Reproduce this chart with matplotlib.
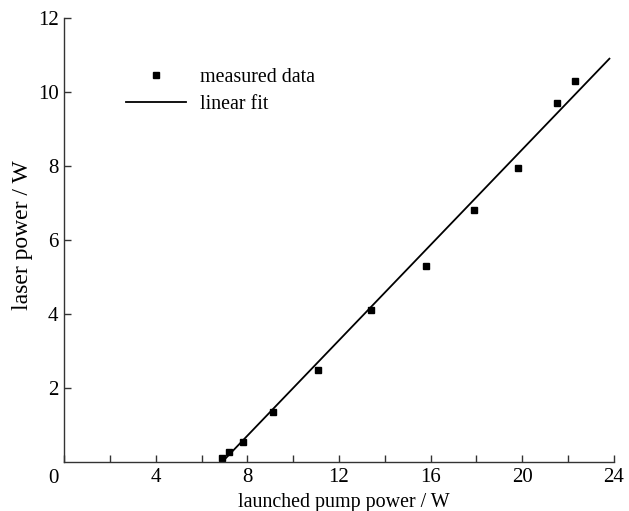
import matplotlib
matplotlib.use("Agg")
import matplotlib.pyplot as plt
import numpy as np

pump_power = [6.9, 7.2, 7.8, 9.1, 11.1, 13.4, 15.8, 17.9, 19.8, 21.5, 22.3]
laser_power = [0.1, 0.27, 0.55, 1.35, 2.5, 4.1, 5.3, 6.8, 7.95, 9.7, 10.3]

fit_threshold = 6.9
fit_slope = 0.645
fit_x_end = 23.8

x_ticks = [0, 2, 4, 6, 8, 10, 12, 14, 16, 18, 20, 22, 24]
x_labels = ["", "", "4", "", "8", "", "12", "", "16", "", "20", "", "24"]
y_ticks = [2, 4, 6, 8, 10, 12]
y_labels = ["2", "4", "6", "8", "10", "12"]

plt.rcParams['font.family'] = ['Liberation Serif', 'DejaVu Serif']
plt.rcParams['mathtext.fontset'] = 'stix'

fig = plt.figure(figsize=(6.29, 5.11), dpi=100)
ax = fig.add_axes([64/629, 1 - 462/511, (614 - 64)/629, (462 - 18)/511])

fit_x = np.array([fit_threshold, fit_x_end])
fit_y = fit_slope * (fit_x - fit_threshold)

ax.plot(pump_power, laser_power, linestyle='none', marker='s', markersize=4.8,
        color='black', label='measured data')
ax.plot(fit_x, fit_y, color='black', linewidth=1.3, label='linear fit')

ax.set_xlim(0, 24)
ax.set_ylim(0, 12)
ax.set_xticks(x_ticks)
ax.set_xticklabels(x_labels)
ax.set_yticks(y_ticks)
ax.set_yticklabels(y_labels)

for s in ['top', 'right']:
    ax.spines[s].set_visible(False)
for s in ['left', 'bottom']:
    ax.spines[s].set_color('#333333')
    ax.spines[s].set_linewidth(1.0)

ax.tick_params(direction='in', length=5, width=1.0, color='#333333',
               labelsize=15, pad=4)
ax.text(-0.22, -0.19, "0", fontsize=15, ha='right', va='top')

ax.set_xlabel("launched pump power / W", fontsize=14.4, labelpad=4.5)
ax.xaxis.label.set_x(0.509)
ax.set_ylabel("laser power / W", fontsize=17)
ax.yaxis.set_label_coords(-0.056, 0.51)

ax.legend(loc='upper left', bbox_to_anchor=(126/629, 1 - 68/511),
          bbox_transform=fig.transFigure, frameon=False, fontsize=14.4,
          handlelength=3.0, handletextpad=0.7, labelspacing=0.4,
          borderaxespad=0, borderpad=0)

fig.savefig("out.png", dpi=100)
